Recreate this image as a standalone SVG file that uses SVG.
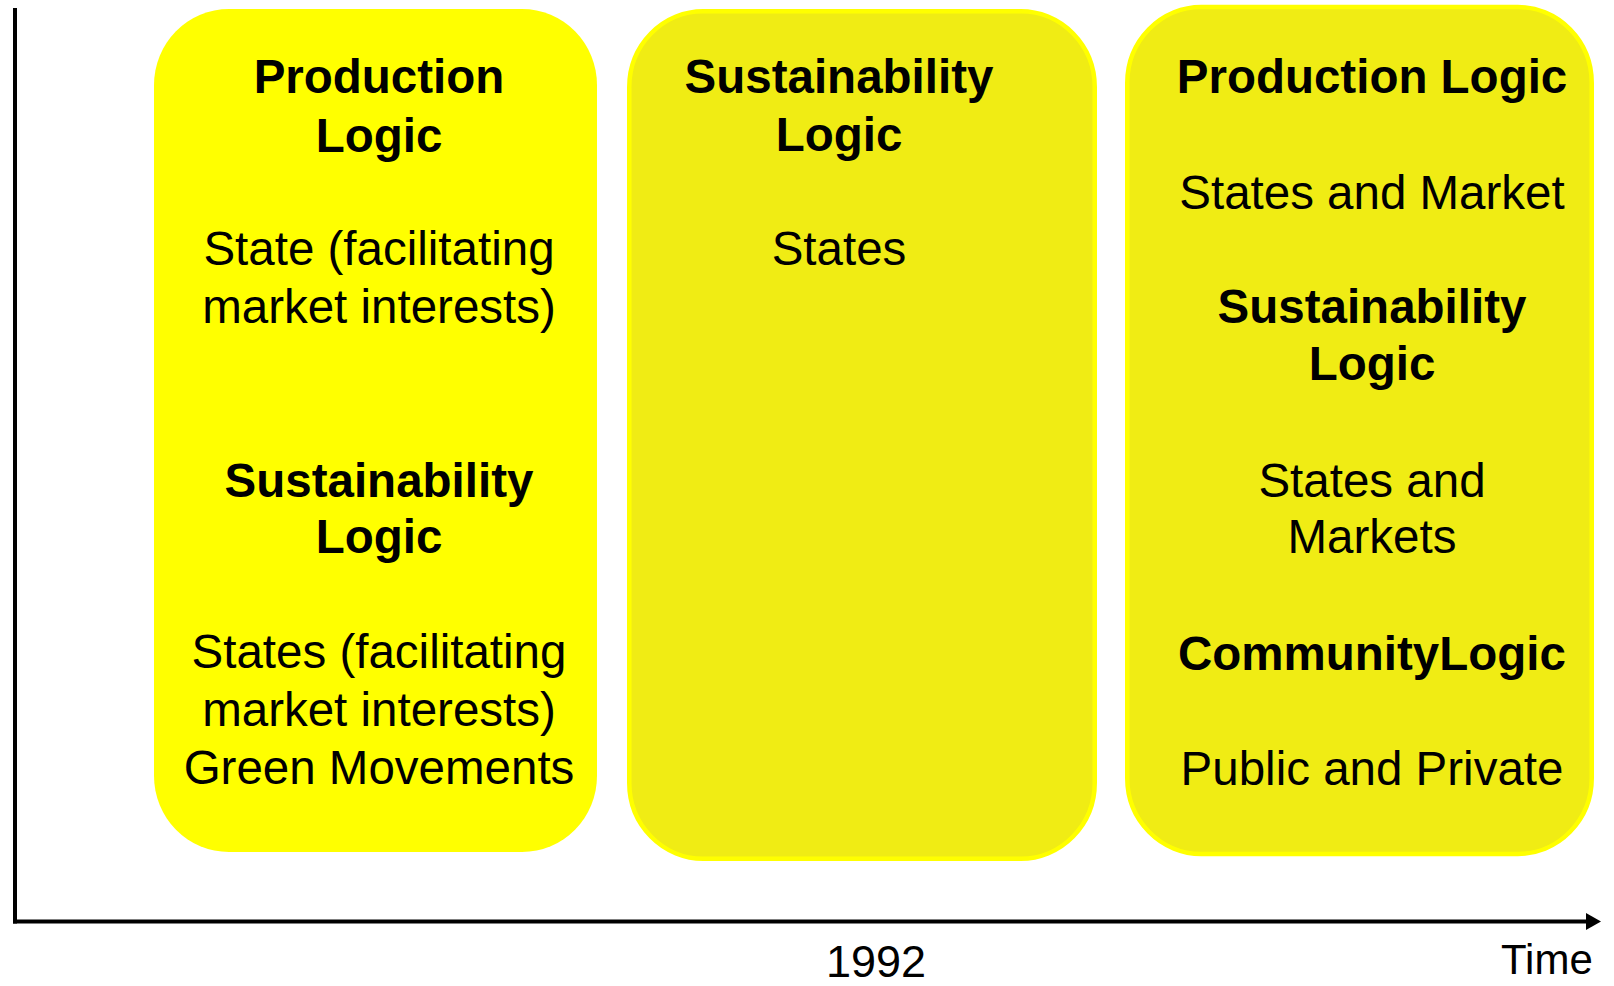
<svg xmlns="http://www.w3.org/2000/svg" width="1614" height="986" viewBox="0 0 1614 986">
  <style>
    text { font-family: "Liberation Sans", Arial, sans-serif; fill: #000; text-anchor: middle; }
    .lbl { font-size: 47.5px; }
    .hd { font-size: 47.5px; font-weight: bold; }
    .box1 { fill: #FFFF00; }
    .box2 { fill: #F0EC14; stroke: #FFFF00; stroke-width: 4.5; }
    .axis { stroke: #000; stroke-width: 4; fill: none; }
  </style>
  <defs>
    <marker id="arrow" markerUnits="userSpaceOnUse" markerWidth="16" markerHeight="18" refX="1" refY="9" orient="auto">
      <polygon points="0,0.5 15,9 0,17.5" fill="#000"/>
    </marker>
  </defs>
  <rect width="1614" height="986" fill="#fff"/>

  <!-- time axis -->
  <g id="connectors">
    <line class="axis" x1="15" y1="8" x2="15" y2="923.5"/>
    <line class="axis" x1="13" y1="921.5" x2="1587" y2="921.5" marker-end="url(#arrow)"/>
  </g>

  <g id="period-1">
    <rect class="box1" x="154" y="9" width="443" height="843" rx="75" ry="76"/>
    <text class="hd" x="379" y="93">Production</text>
    <text class="hd" x="379" y="151.5">Logic</text>
    <text class="lbl" x="379" y="265">State (facilitating</text>
    <text class="lbl" x="379" y="323">market interests)</text>
    <text class="hd" x="379" y="497">Sustainability</text>
    <text class="hd" x="379" y="553">Logic</text>
    <text class="lbl" x="379" y="668">States (facilitating</text>
    <text class="lbl" x="379" y="726">market interests)</text>
    <text class="lbl" x="379" y="784">Green Movements</text>
  </g>

  <g id="period-2">
    <rect class="box2" x="629.25" y="11.25" width="465.5" height="847.5" rx="74" ry="76"/>
    <text class="hd" x="839" y="92.5">Sustainability</text>
    <text class="hd" x="839" y="150.5">Logic</text>
    <text class="lbl" x="839" y="265">States</text>
  </g>

  <g id="period-3">
    <rect class="box2" x="1127.25" y="7" width="464.5" height="847" rx="74" ry="76"/>
    <text class="hd" x="1372" y="93">Production Logic</text>
    <text class="lbl" x="1372" y="208.5">States and Market</text>
    <text class="hd" x="1372" y="323">Sustainability</text>
    <text class="hd" x="1372" y="380">Logic</text>
    <text class="lbl" x="1372" y="497">States and</text>
    <text class="lbl" x="1372" y="553">Markets</text>
    <text class="hd" x="1372" y="670">CommunityLogic</text>
    <text class="lbl" x="1372" y="785">Public and Private</text>
  </g>

  <g id="axis-labels">
    <text x="876" y="976.5" style="font-size:45px">1992</text>
    <text x="1501" y="974" style="font-size:42px; text-anchor:start">Time</text>
  </g>
</svg>
